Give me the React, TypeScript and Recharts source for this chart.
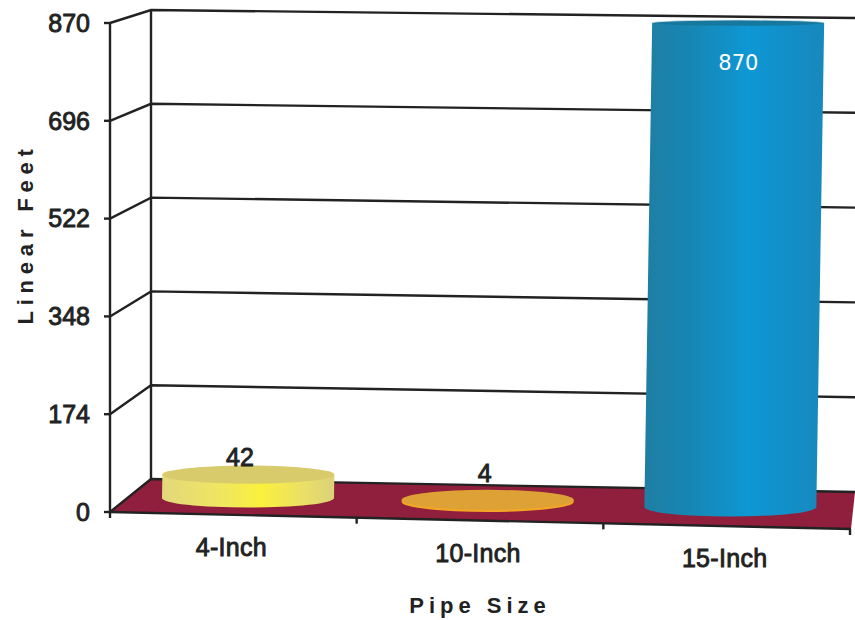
import React from "react";
import { Bar, BarChart, CartesianGrid, Label, LabelList, XAxis, YAxis } from "recharts";

const categories = ["4-Inch", "10-Inch", "15-Inch"];
const linearFeet = [42, 4, 870];
const yTicks = [0, 174, 348, 522, 696, 870];

const chartData = categories.map((size, i) => ({ size, feet: linearFeet[i] }));

const PLOT_TOP = 23;
const PLOT_BOTTOM = 512;
const PLOT_LEFT = 110;
const PLOT_RIGHT = 850;
const BAND = (PLOT_RIGHT - PLOT_LEFT) / categories.length;
const INK = "#222222";
const FONT = "'Liberation Sans', Arial, sans-serif";
const LINE_WIDTH = 2.4;

// fake perspective: where a front-plane y lands on the back wall
const backLeftY = (y: number) => 10 + ((y - PLOT_TOP) * 469) / 489;
const backRightY = (y: number) => 18 + ((y - PLOT_TOP) * 474) / 489;
// front edge of the floor runs slightly downhill to the right
const floorFrontY = (x: number) => PLOT_BOTTOM + ((x - PLOT_LEFT) * 17) / 740;

// per-bar placement on the floor
const cylinderShift = [15, 8, 4];
const cylinderLift = [14, 10, 5];
const cylinderFill = ["url(#pipeYellow)", "#f3a526", "url(#pipeBlue)"];
const cylinderTop = ["#d8cb6c", "#dda136", "#17789f"];
const labelShift = [7, 5, 12];
const labelRise = [31, 37, -39];

function gridLine(props: any) {
  const { x1, y1, key } = props;
  const isFloor = Math.abs(y1 - PLOT_BOTTOM) < 1;
  const lineProps = { stroke: INK, strokeWidth: LINE_WIDTH, fill: "none" };
  return (
    <g key={key}>
      {isFloor && (
        <>
          <polygon
            points={`${x1},${y1} 151,${backLeftY(y1)} 855,${backRightY(y1)} 851,${floorFrontY(851)}`}
            fill="#8f1f3d"
          />
          <line x1={151} y1={backLeftY(PLOT_TOP)} x2={151} y2={backLeftY(y1)} {...lineProps} />
          <line x1={x1} y1={y1} x2={851} y2={floorFrontY(851)} {...lineProps} />
        </>
      )}
      <polyline
        points={`${x1},${y1} 151,${backLeftY(y1)} 855,${backRightY(y1)}`}
        {...lineProps}
      />
    </g>
  );
}

function Cylinder(props: any) {
  const { x, y, width, height, index } = props;
  const rx = width / 2;
  const cx = x + rx + cylinderShift[index];
  const baseY = y + height - cylinderLift[index];
  const topY = baseY - height * 0.99;
  const lean = height * 0.016;
  const baseRy = index === 1 ? 10 : 9.5;
  const topRy = baseRy - height * 0.0135;
  const side =
    `M${cx - rx},${baseY} A${rx},${baseRy} 0 0 0 ${cx + rx},${baseY} ` +
    `L${cx + rx + lean},${topY} L${cx - rx + lean},${topY} Z`;
  return (
    <g>
      <path d={side} fill={cylinderFill[index]} />
      <ellipse cx={cx + lean} cy={topY} rx={rx} ry={topRy} fill={cylinderTop[index]} />
      {index === 2 && (
        <path
          d={`M${cx + lean - rx},${topY} A${rx},${topRy} 0 0 1 ${cx + lean + rx},${topY}`}
          fill="none"
          stroke="#d5e6ec"
          strokeWidth={0.8}
        />
      )}
    </g>
  );
}

function FeetLabel(props: any) {
  const { x, y, width, value, index } = props;
  const inside = labelRise[index] < 0;
  return (
    <text
      x={x + width / 2 + labelShift[index]}
      y={y - labelRise[index]}
      dy="0.36em"
      textAnchor="middle"
      fontFamily={inside ? "'DejaVu Sans', sans-serif" : FONT}
      fontSize={inside ? 21 : 25}
      fill={inside ? "#ffffff" : INK}
      stroke={inside ? "none" : INK}
      strokeWidth={0.9}
    >
      {value}
    </text>
  );
}

function SizeTick(props: any) {
  const { x, payload, index } = props;
  const edges = [x - BAND / 2];
  if (index === categories.length - 1) edges.push(x + BAND / 2);
  return (
    <g>
      {edges.map((ex) => (
        <line
          key={ex}
          x1={ex}
          y1={floorFrontY(ex)}
          x2={ex}
          y2={floorFrontY(ex) + 6}
          stroke={INK}
          strokeWidth={LINE_WIDTH}
        />
      ))}
      <text
        x={x - 2}
        y={floorFrontY(x) + 32}
        dy="0.36em"
        textAnchor="middle"
        fontFamily={FONT}
        fontSize={25}
        letterSpacing={0.3}
        fill={INK}
        stroke={INK}
        strokeWidth={0.9}
      >
        {payload.value}
      </text>
    </g>
  );
}

export default function App() {
  return (
    <div style={{ position: "absolute", left: 0, top: 0, background: "#fff" }}>
      <BarChart
        width={855}
        height={620}
        data={chartData}
        margin={{ top: PLOT_TOP, right: 855 - PLOT_RIGHT, bottom: 0, left: 0 }}
        barSize={172}
      >
        <defs>
          <linearGradient id="pipeYellow" x1="0" y1="0" x2="1" y2="0">
            <stop offset="0%" stopColor="#e2d87c" />
            <stop offset="35%" stopColor="#f0e660" />
            <stop offset="58%" stopColor="#faf03c" />
            <stop offset="80%" stopColor="#ece164" />
            <stop offset="100%" stopColor="#dbd178" />
          </linearGradient>
          <linearGradient id="pipeBlue" x1="0" y1="0" x2="1" y2="0">
            <stop offset="0%" stopColor="#1f7ea3" />
            <stop offset="25%" stopColor="#1786b3" />
            <stop offset="58%" stopColor="#0e97d4" />
            <stop offset="100%" stopColor="#1788bc" />
          </linearGradient>
        </defs>
        <CartesianGrid horizontal={gridLine} vertical={false} stroke={INK} />
        <XAxis
          dataKey="size"
          height={620 - PLOT_BOTTOM}
          axisLine={false}
          tickLine={false}
          interval={0}
          tick={<SizeTick />}
        >
          <Label
            content={() => (
              <text
                x={480}
                y={605}
                dy="0.36em"
                textAnchor="middle"
                fontFamily={FONT}
                fontWeight={700}
                fontSize={22}
                letterSpacing={5}
                fill={INK}
              >
                Pipe Size
              </text>
            )}
          />
        </XAxis>
        <YAxis
          width={PLOT_LEFT}
          domain={[0, 870]}
          ticks={yTicks}
          interval={0}
          tickSize={6}
          tickMargin={14}
          axisLine={{ stroke: INK, strokeWidth: LINE_WIDTH }}
          tickLine={{ stroke: INK, strokeWidth: LINE_WIDTH }}
          tick={{
            fill: INK,
            stroke: INK,
            strokeWidth: 0.9,
            fontSize: 25,
            fontFamily: FONT,
          }}
        >
          <Label
            content={() => (
              <text
                transform="translate(25,234) rotate(-90)"
                dy="0.36em"
                textAnchor="middle"
                fontFamily={FONT}
                fontWeight={700}
                fontSize={22}
                letterSpacing={5.8}
                fill={INK}
              >
                Linear Feet
              </text>
            )}
          />
        </YAxis>
        <Bar dataKey="feet" shape={<Cylinder />} isAnimationActive={false}>
          <LabelList dataKey="feet" content={<FeetLabel />} />
        </Bar>
      </BarChart>
    </div>
  );
}
